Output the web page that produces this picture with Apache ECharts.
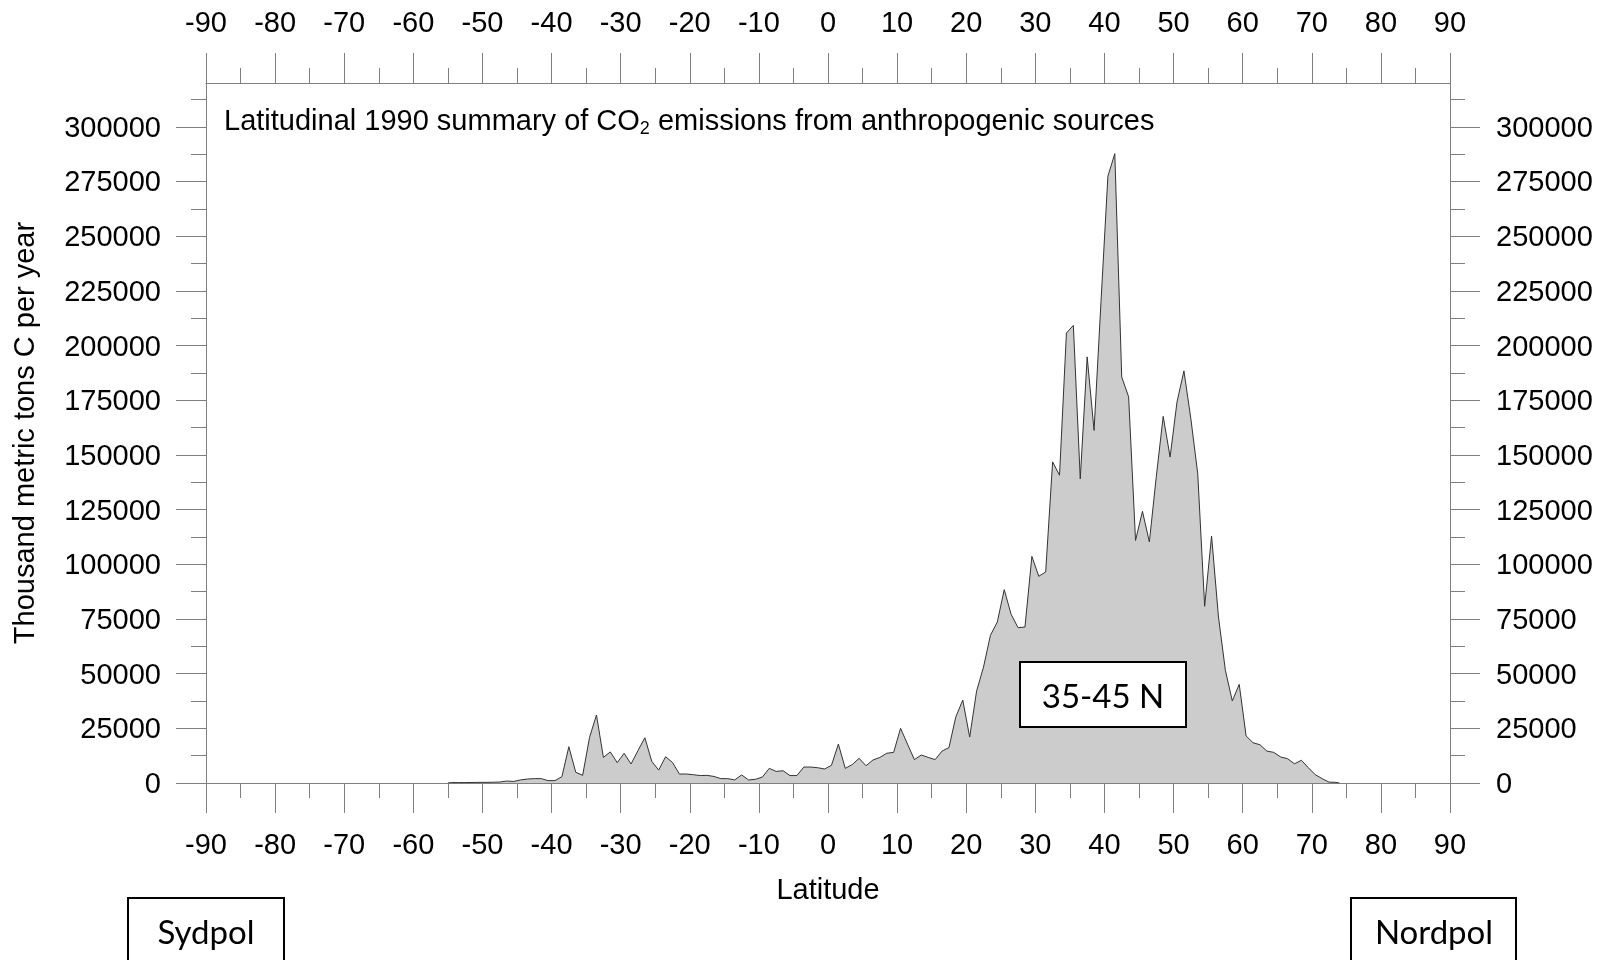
<!DOCTYPE html>
<html>
<head>
<meta charset="utf-8">
<script src="https://cdn.jsdelivr.net/npm/echarts@6/dist/echarts.min.js"></script>
<style>
  html, body { margin: 0; padding: 0; background: #ffffff; }
  #chart { width: 1607px; height: 960px; }
</style>
</head>
<body>
<div id="chart"></div>
<script>
// ---- data ----
// latitude grid: 1-degree cells, centres at -54.5 ... 73.5; the curve starts at -55 and ends at 74
const firstCellCentre = -54.5;
const curveStartLat = -55;
const curveEndLat = 74;
// thousand metric tons C per year, one value per 1-degree cell (south to north)
const emissions = [
  200, 200, 200, 250, 300, 300, 350, 450, 900, 700,          // -54.5 .. -45.5
  1400, 1800, 2000, 2000, 1100, 1100, 2900, 16600, 4900, 3500, // -44.5 .. -35.5
  20900, 31100, 11700, 14200, 9300, 13600, 8700, 14800, 20700, 9900, // -34.5 .. -25.5
  5900, 12000, 9400, 4100, 4100, 3800, 3400, 3500, 3000, 2000, // -24.5 .. -15.5
  2000, 1400, 3700, 1400, 1700, 2700, 6700, 5300, 5600, 3400,  // -14.5 .. -5.5
  3400, 7300, 7300, 7000, 6400, 8100, 17800, 6700, 8400, 11300, // -4.5 .. 4.5
  7900, 10500, 11700, 13600, 14000, 25000, 17800, 10700, 12800, 11700, // 5.5 .. 14.5
  10700, 14600, 16200, 30300, 37900, 21000, 42000, 53000, 67500, 73600, // 15.5 .. 24.5
  88400, 77100, 71000, 71300, 103600, 94500, 96500, 146800, 140700, 205700, // 25.5 .. 34.5
  209200, 139000, 194800, 161200, 220000, 277400, 287700, 185600, 176500, 110900, // 35.5 .. 44.5
  124200, 110200, 140000, 167600, 149000, 174200, 188400, 166600, 141400, 80800, // 45.5 .. 54.5
  112900, 75900, 51500, 37500, 45100, 21500, 18400, 17500, 14600, 14000, // 55.5 .. 64.5
  11900, 11100, 8800, 10400, 7000, 3800, 2000, 400, 300        // 65.5 .. 73.5
];
const xTicks = [-90, -80, -70, -60, -50, -40, -30, -20, -10, 0, 10, 20, 30, 40, 50, 60, 70, 80, 90];
const yTicks = [0, 25000, 50000, 75000, 100000, 125000, 150000, 175000, 200000, 225000, 250000, 275000, 300000];
const yMinorTicks = [12500, 37500, 62500, 87500, 112500, 137500, 162500, 187500, 212500, 237500, 262500, 287500, 312500];
const yMax = 320000;

const titleParts = ['Latitudinal 1990 summary of CO', '2', ' emissions from anthropogenic sources'];
const yName = 'Thousand metric tons C per year';
const xName = 'Latitude';
const boxLabels = { region: '35-45 N', south: 'Sydpol', north: 'Nordpol' };

// ---- build ----
const seriesData = [[curveStartLat, 0]];
emissions.forEach((v, i) => seriesData.push([firstCellCentre + i, v]));
seriesData.push([curveEndLat, 0]);

const FONT = '"Liberation Sans", Arial, sans-serif';
const BOXFONT = 'Lato, "Open Sans", sans-serif';
const GRAY = '#7f7f7f';
const fmt = v => String(v);
const fmtY = v => '{v|' + v + '}';

function xAxisCfg(pos, margin, withName) {
  const c = {
    type: 'value', position: pos, gridIndex: 0,
    min: xTicks[0], max: xTicks[xTicks.length - 1], interval: xTicks[1] - xTicks[0],
    axisLine: { show: true, onZero: false, lineStyle: { color: GRAY, width: 1 } },
    axisTick: { show: true, inside: false, length: 30, lineStyle: { color: GRAY, width: 1 } },
    minorTick: { show: true, splitNumber: 2, length: 15, lineStyle: { color: GRAY, width: 1 } },
    splitLine: { show: false }, minorSplitLine: { show: false },
    axisLabel: { show: true, margin: margin, fontSize: 29, fontFamily: FONT, color: '#000', formatter: fmt, hideOverlap: false }
  };
  if (withName) {
    c.name = xName; c.nameLocation = 'middle'; c.nameGap = 93; c.nameMoveOverlap = false;
    c.nameTextStyle = { fontSize: 29, fontFamily: FONT, color: '#000' };
  }
  return c;
}
function yAxisCfg(pos, minor, withName) {
  const c = {
    type: 'value', position: pos, gridIndex: 0, min: 0, max: yMax,
    axisLine: { show: !minor, onZero: false, lineStyle: { color: GRAY, width: 1 } },
    axisTick: { show: true, inside: false, length: minor ? 15 : 30, customValues: minor ? yMinorTicks : yTicks, lineStyle: { color: GRAY, width: 1 } },
    splitLine: { show: false },
    axisLabel: minor ? { show: false } : {
      show: true, customValues: yTicks, margin: pos === 'left' ? 45 : 46,
      fontSize: 29, fontFamily: FONT, color: '#000', formatter: fmtY, hideOverlap: false,
      rich: { v: { fontSize: 29, fontFamily: FONT, color: '#000', padding: [4, 0, 0, 0] } }
    }
  };
  if (withName) {
    c.name = yName; c.nameLocation = 'middle'; c.nameGap = 166; c.nameMoveOverlap = false;
    c.nameTextStyle = { fontSize: 29, fontFamily: FONT, color: '#000' };
  }
  return c;
}

const chart = echarts.init(document.getElementById('chart'), null, { renderer: 'canvas' });
chart.setOption({
  animation: false,
  backgroundColor: '#ffffff',
  grid: { left: 206, right: 157, top: 83, bottom: 177, containLabel: false, outerBoundsMode: 'none' },
  xAxis: [xAxisCfg('bottom', 48, true), xAxisCfg('top', 45, false)],
  yAxis: [yAxisCfg('left', false, true), yAxisCfg('right', false, false), yAxisCfg('left', true, false), yAxisCfg('right', true, false)],
  series: [{
    type: 'line', xAxisIndex: 0, yAxisIndex: 0, data: seriesData,
    symbol: 'none', showSymbol: false, smooth: false,
    lineStyle: { color: '#333333', width: 1 },
    areaStyle: { color: '#cccccc', opacity: 1 },
    z: 2
  }],
  graphic: [
    { type: 'text', x: 224, y: 122, z: 10,
      style: {
        text: '{a|' + titleParts[0] + '}{s|' + titleParts[1] + '}{a|' + titleParts[2] + '}',
        verticalAlign: 'middle',
        rich: {
          a: { fontSize: 29, fontFamily: FONT, fill: '#000' },
          s: { fontSize: 18, fontFamily: FONT, fill: '#000', padding: [14, 0, 0, 0] }
        }
      } },
    { type: 'rect', z: 10, shape: { x: 1020, y: 662, width: 166, height: 65 }, style: { fill: '#fff', stroke: '#000', lineWidth: 2 } },
    { type: 'text', z: 11, x: 1103, y: 697, style: { text: boxLabels.region, font: '33px ' + BOXFONT, fill: '#000', align: 'center', verticalAlign: 'middle' } },
    { type: 'rect', z: 10, shape: { x: 128, y: 898, width: 156, height: 90 }, style: { fill: '#fff', stroke: '#000', lineWidth: 2 } },
    { type: 'text', z: 11, x: 206, y: 933, style: { text: boxLabels.south, font: '33px ' + BOXFONT, fill: '#000', align: 'center', verticalAlign: 'middle' } },
    { type: 'rect', z: 10, shape: { x: 1351, y: 898, width: 165, height: 90 }, style: { fill: '#fff', stroke: '#000', lineWidth: 2 } },
    { type: 'text', z: 11, x: 1434, y: 933, style: { text: boxLabels.north, font: '33px ' + BOXFONT, fill: '#000', align: 'center', verticalAlign: 'middle' } }
  ]
});
</script>
</body>
</html>
